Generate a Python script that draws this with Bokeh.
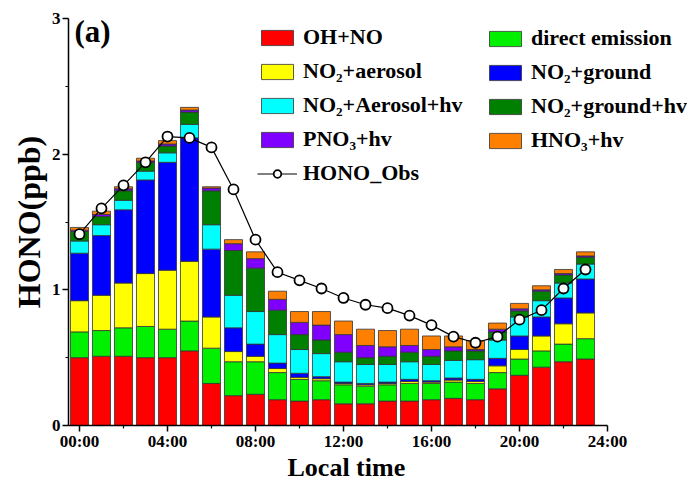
from bokeh.plotting import figure
from bokeh.models import (ColumnDataSource, FixedTicker, Legend, LegendItem, Label,
                          Range1d, Title)
from bokeh.embed import file_html
from bokeh.resources import INLINE

hours = list(range(24))
oh_no = [0.50, 0.51, 0.51, 0.50, 0.50, 0.55, 0.31, 0.22, 0.23, 0.19, 0.18, 0.19,
         0.16, 0.16, 0.18, 0.18, 0.19, 0.20, 0.19, 0.27, 0.37, 0.43, 0.47, 0.49]
direct_emission = [0.19, 0.19, 0.21, 0.23, 0.21, 0.22, 0.26, 0.25, 0.24, 0.20, 0.16, 0.14,
                   0.14, 0.13, 0.12, 0.13, 0.12, 0.12, 0.12, 0.12, 0.12, 0.12, 0.13, 0.15]
no2_aerosol = [0.23, 0.26, 0.33, 0.39, 0.435, 0.44, 0.23, 0.075, 0.04, 0.03, 0.015, 0.015,
               0.01, 0.01, 0.01, 0.015, 0.01, 0.015, 0.015, 0.05, 0.07, 0.11, 0.15, 0.19]
no2_ground = [0.35, 0.44, 0.54, 0.69, 0.795, 0.91, 0.50, 0.175, 0.09, 0.04, 0.03, 0.015,
              0.01, 0.01, 0.01, 0.015, 0.01, 0.015, 0.015, 0.055, 0.10, 0.14, 0.19, 0.25]
no2_aerosol_hv = [0.09, 0.08, 0.07, 0.065, 0.07, 0.10, 0.18, 0.24, 0.24, 0.21, 0.175, 0.17,
                  0.15, 0.14, 0.13, 0.13, 0.12, 0.13, 0.145, 0.135, 0.14, 0.12, 0.11, 0.11]
no2_ground_hv = [0.07, 0.06, 0.07, 0.065, 0.05, 0.09, 0.25, 0.33, 0.32, 0.18, 0.11, 0.10,
                 0.07, 0.05, 0.06, 0.07, 0.06, 0.07, 0.065, 0.06, 0.045, 0.07, 0.06, 0.05]
pno3_hv = [0.01, 0.015, 0.015, 0.01, 0.015, 0.015, 0.02, 0.05, 0.07, 0.08, 0.09, 0.11,
           0.13, 0.09, 0.07, 0.05, 0.05, 0.03, 0.01, 0.02, 0.015, 0.01, 0.01, 0.01]
hno3_hv = [0.02, 0.025, 0.015, 0.02, 0.025, 0.02, 0.01, 0.03, 0.05, 0.06, 0.08, 0.10,
           0.10, 0.12, 0.12, 0.12, 0.10, 0.08, 0.065, 0.045, 0.04, 0.03, 0.03, 0.03]
hono_obs = [1.41, 1.60, 1.77, 1.94, 2.13, 2.12, 2.05, 1.74, 1.37, 1.13, 1.07, 1.01,
            0.94, 0.89, 0.865, 0.81, 0.74, 0.655, 0.61, 0.655, 0.78, 0.85, 1.01, 1.15]

series_keys = ["oh_no", "direct_emission", "no2_aerosol", "no2_ground",
               "no2_aerosol_hv", "no2_ground_hv", "pno3_hv", "hno3_hv"]
series_labels = ["OH+NO", "direct emission", "NO\u2082+aerosol", "NO\u2082+ground",
                 "NO\u2082+Aerosol+hv", "NO\u2082+ground+hv", "PNO\u2083+hv", "HNO\u2083+hv"]
series_colors = ["#FF0000", "#00F000", "#FFFF00", "#0000FF",
                 "#00FFFF", "#008000", "#8000FF", "#FF8000"]

tick_hours = [0, 4, 8, 12, 16, 20, 24]
tick_labels = ["00:00", "04:00", "08:00", "12:00", "16:00", "20:00", "24:00"]

src = ColumnDataSource(dict(hours=hours, oh_no=oh_no, direct_emission=direct_emission,
                            no2_aerosol=no2_aerosol, no2_ground=no2_ground,
                            no2_aerosol_hv=no2_aerosol_hv, no2_ground_hv=no2_ground_hv,
                            pno3_hv=pno3_hv, hno3_hv=hno3_hv, hono_obs=hono_obs))

FONT = "Liberation Serif"
PX_PER_HOUR = 22.0
BORDER_L, BORDER_R = 68, 8
FRAME_W = 695 - BORDER_L - BORDER_R

p = figure(width=695, height=482, output_backend="svg", toolbar_location=None,
           x_range=Range1d(-0.5, -0.5 + FRAME_W / PX_PER_HOUR), y_range=Range1d(0, 3),
           min_border_left=BORDER_L, min_border_right=BORDER_R, min_border_top=18,
           min_border_bottom=0)
p.outline_line_color = None
p.xgrid.visible = False
p.ygrid.visible = False

bars = p.vbar_stack(series_keys, x="hours", width=0.82, source=src,
                    color=series_colors, line_color="#333333", line_width=0.8)
obs_line = p.line("hours", "hono_obs", source=src, line_color="black", line_width=1.2)
obs_pts = p.scatter("hours", "hono_obs", source=src, size=10, marker="circle",
                    fill_color="white", line_color="black", line_width=1.8)

# axes
p.xaxis.ticker = FixedTicker(ticks=tick_hours, minor_ticks=[2, 6, 10, 14, 18, 22])
p.xaxis.major_label_overrides = {h: l for h, l in zip(tick_hours, tick_labels)}
p.xaxis.bounds = (-0.5, 24)
p.yaxis.ticker = FixedTicker(ticks=[0, 1, 2, 3], minor_ticks=[0.5, 1.5, 2.5])
for ax in (p.xaxis[0], p.yaxis[0]):
    ax.axis_line_width = 1.5
    ax.axis_line_color = "black"
    ax.major_tick_line_color = "black"
    ax.minor_tick_line_color = "black"
    ax.major_tick_line_width = 1.5
    ax.minor_tick_line_width = 1.2
    ax.major_tick_out = 6
    ax.major_tick_in = 0
    ax.minor_tick_out = 3
    ax.minor_tick_in = 0
    ax.major_label_text_font = FONT
    ax.major_label_text_font_style = "bold"
    ax.major_label_text_font_size = "17px"
    ax.major_label_text_color = "black"
    ax.axis_label_text_font = FONT
    ax.axis_label_text_font_style = "bold"
    ax.axis_label_text_color = "black"
p.xaxis.major_label_standoff = 0
p.yaxis.major_label_standoff = 2
p.yaxis.axis_label = "HONO(ppb)"
p.yaxis.axis_label_text_font_size = "32px"
p.yaxis.axis_label_standoff = 2

# x-axis title, placed below the axis under the 0-24 h span
p.add_layout(Title(text="Local time", align="left", offset=219, standoff=-2,
                   vertical_align="top",
                   text_font=FONT, text_font_style="bold", text_font_size="26px",
                   text_color="black"), "below")

# legends
left_idx = [0, 2, 4, 6]
right_idx = [1, 3, 5, 7]
left_items = [LegendItem(label=series_labels[i], renderers=[bars[i]]) for i in left_idx]
left_items.append(LegendItem(label="HONO_Obs", renderers=[obs_line, obs_pts]))
right_items = [LegendItem(label=series_labels[i], renderers=[bars[i]]) for i in right_idx]


def make_legend(items, loc):
    lg = Legend(items=items, location=loc, orientation="vertical")
    lg.glyph_width = 40
    lg.glyph_height = 19
    lg.label_height = 22
    lg.spacing = 8
    lg.padding = 0
    lg.margin = 0
    lg.label_standoff = 6
    lg.border_line_color = None
    lg.background_fill_alpha = 0
    lg.label_text_font = FONT
    lg.label_text_font_style = "bold"
    lg.label_text_font_size = "22px"
    lg.label_text_color = "black"
    return lg


p.add_layout(make_legend(left_items, (189, 239)), "center")
p.add_layout(make_legend(right_items, (417, 272)), "center")

p.add_layout(Label(x=6, y=377, x_units="screen", y_units="screen", text="(a)",
                   text_font=FONT, text_font_style="bold", text_font_size="31px",
                   text_color="black"))

open("out.html", "w").write(file_html(p, INLINE))
